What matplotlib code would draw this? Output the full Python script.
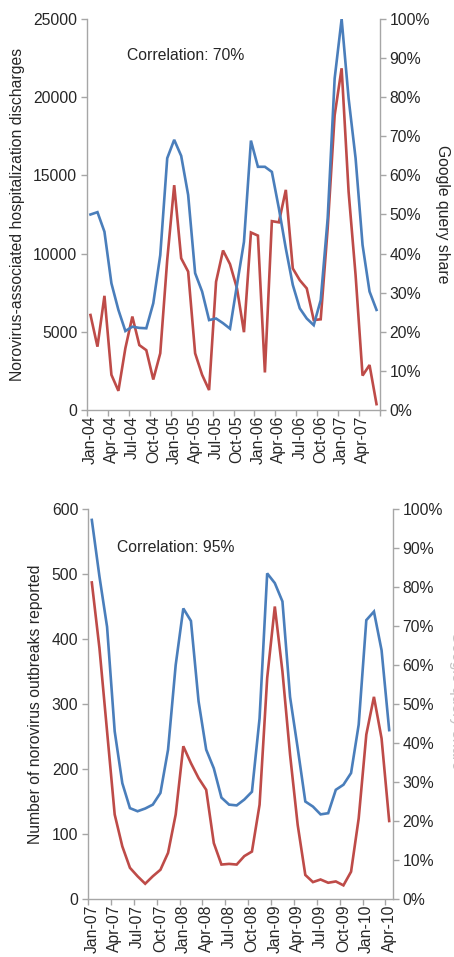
import matplotlib
matplotlib.use("Agg")
import matplotlib.pyplot as plt
from matplotlib.ticker import FixedLocator, FuncFormatter

plt.rcParams['font.family'] = ['Liberation Sans', 'DejaVu Sans']

# ---------------- data: top panel (Jan-04 .. Jun-07, monthly) ----------------
top_months = ['Jan-04', 'Feb-04', 'Mar-04', 'Apr-04', 'May-04', 'Jun-04', 'Jul-04', 'Aug-04', 'Sep-04',
              'Oct-04', 'Nov-04', 'Dec-04', 'Jan-05', 'Feb-05', 'Mar-05', 'Apr-05', 'May-05', 'Jun-05',
              'Jul-05', 'Aug-05', 'Sep-05', 'Oct-05', 'Nov-05', 'Dec-05', 'Jan-06', 'Feb-06', 'Mar-06',
              'Apr-06', 'May-06', 'Jun-06', 'Jul-06', 'Aug-06', 'Sep-06', 'Oct-06', 'Nov-06', 'Dec-06',
              'Jan-07', 'Feb-07', 'Mar-07', 'Apr-07', 'May-07', 'Jun-07']
top_discharges = [6075, 4050, 7300, 2250, 1225, 3950, 5975, 4150, 3825, 1950, 3625, 9600,
                  14375, 9700, 8850, 3625, 2250, 1275, 8200, 10200, 9325, 7775, 4975, 11350,
                  11150, 2400, 12075, 12000, 14075, 9050, 8300, 7775, 5750, 5800, 11625, 18850,
                  21850, 13950, 8625, 2200, 2875, 375]
top_query_share = [50.0, 50.6, 45.6, 32.4, 25.6, 20.2, 21.3, 21.0, 20.9, 27.3, 39.6, 64.4,
                   69.1, 65.0, 55.0, 35.0, 30.3, 23.0, 23.4, 22.2, 20.8, 32.0, 43.0, 68.9,
                   62.2, 62.2, 60.9, 51.6, 41.3, 32.0, 26.0, 23.4, 21.7, 28.1, 49.0, 84.8,
                   100.0, 79.7, 64.4, 42.2, 30.3, 25.6]
top_tick_labels = ['Jan-04', 'Apr-04', 'Jul-04', 'Oct-04', 'Jan-05', 'Apr-05', 'Jul-05', 'Oct-05',
                   'Jan-06', 'Apr-06', 'Jul-06', 'Oct-06', 'Jan-07', 'Apr-07']
top_left_ticks = [0, 5000, 10000, 15000, 20000, 25000]

# ---------------- data: bottom panel (Jan-07 .. Apr-10, monthly) ----------------
bot_months = ['Jan-07', 'Feb-07', 'Mar-07', 'Apr-07', 'May-07', 'Jun-07', 'Jul-07', 'Aug-07', 'Sep-07',
              'Oct-07', 'Nov-07', 'Dec-07', 'Jan-08', 'Feb-08', 'Mar-08', 'Apr-08', 'May-08', 'Jun-08',
              'Jul-08', 'Aug-08', 'Sep-08', 'Oct-08', 'Nov-08', 'Dec-08', 'Jan-09', 'Feb-09', 'Mar-09',
              'Apr-09', 'May-09', 'Jun-09', 'Jul-09', 'Aug-09', 'Sep-09', 'Oct-09', 'Nov-09', 'Dec-09',
              'Jan-10', 'Feb-10', 'Mar-10', 'Apr-10']
bot_outbreaks = [487, 386, 258, 130, 81, 48, 35, 23.5, 35, 45, 71, 130,
                 235, 209, 186, 168, 86, 53, 54, 53, 66, 73, 145, 340,
                 450, 350, 222, 114, 37, 26, 30, 25, 27, 21, 42, 124,
                 253, 311, 247, 120]
bot_query_share = [97.2, 82.7, 69.8, 43.0, 29.7, 23.3, 22.5, 23.2, 24.2, 27.2, 38.3, 60.0,
                   74.5, 71.3, 50.7, 38.3, 33.5, 26.0, 24.2, 24.0, 25.5, 27.5, 46.3, 83.5,
                   81.0, 76.3, 51.8, 38.7, 25.0, 23.7, 21.7, 22.0, 28.0, 29.3, 32.3, 44.7,
                   71.5, 73.7, 63.8, 43.3]
bot_tick_labels = ['Jan-07', 'Apr-07', 'Jul-07', 'Oct-07', 'Jan-08', 'Apr-08', 'Jul-08', 'Oct-08',
                   'Jan-09', 'Apr-09', 'Jul-09', 'Oct-09', 'Jan-10', 'Apr-10']
bot_left_ticks = [0, 100, 200, 300, 400, 500, 600]
pct_ticks = [0, 10, 20, 30, 40, 50, 60, 70, 80, 90, 100]

BLUE = '#4a7ebb'
RED = '#be4b48'
AXC = '#a6a6a6'
TXT = '#262626'
FS = 11.3

fig = plt.figure(figsize=(4.54, 9.57), dpi=100)


def panel(rect, months, left_vals, right_vals, left_max, left_ticks, tick_labels,
          ylabel, corr_text, corr_xy):
    ax = fig.add_axes(rect)
    n = len(months)
    xs = list(range(n))
    ax.plot(xs, left_vals, color=RED, lw=1.9, solid_joinstyle='miter', zorder=2)
    ax.set_xlim(-0.5, n - 0.5)
    ax.set_ylim(0, left_max)
    ax.yaxis.set_major_locator(FixedLocator(left_ticks))
    ax.yaxis.set_major_formatter(FuncFormatter(lambda v, p: f"{int(v)}"))
    label_pos = [i for i in range(0, n, 3)][:len(tick_labels)]
    ax.xaxis.set_major_locator(FixedLocator(label_pos))
    ax.set_xticklabels(tick_labels, rotation=90, fontsize=FS, color=TXT)
    ax.xaxis.set_minor_locator(FixedLocator([b - 0.5 for b in range(0, n + 1, 3)]))
    ax.tick_params(axis='x', which='major', length=0, pad=4)
    ax.tick_params(axis='x', which='minor', length=4, color=AXC, width=1)
    ax.tick_params(axis='y', length=4, color=AXC, width=1, labelsize=FS, labelcolor=TXT, pad=3)
    for s in ['top', 'right']:
        ax.spines[s].set_visible(False)
    for s in ['left', 'bottom']:
        ax.spines[s].set_color(AXC)
        ax.spines[s].set_linewidth(1)
    ax.set_ylabel(ylabel, fontsize=FS, color=TXT)

    ax2 = ax.twinx()
    ax2.plot(xs, right_vals, color=BLUE, lw=1.9, solid_joinstyle='miter', zorder=3)
    ax2.set_ylim(0, 100)
    ax2.yaxis.set_major_locator(FixedLocator(pct_ticks))
    ax2.yaxis.set_major_formatter(FuncFormatter(lambda v, p: f"{int(v)}%"))
    ax2.tick_params(axis='y', length=4, color=AXC, width=1, labelsize=FS, labelcolor=TXT, pad=3)
    for s in ['top', 'left', 'bottom']:
        ax2.spines[s].set_visible(False)
    ax2.spines['right'].set_color(AXC)
    ax2.spines['right'].set_linewidth(1)
    ax.text(corr_xy[0], corr_xy[1], corr_text, transform=fig.transFigure,
            fontsize=FS, color=TXT, ha='left', va='center')
    return ax, ax2


ax_t, ax_t2 = panel([87 / 454, 1 - 410 / 957, 293 / 454, 391 / 957], top_months,
                    top_discharges, top_query_share, 25000, top_left_ticks, top_tick_labels,
                    'Norovirus-associated hospitalization discharges', 'Correlation: 70%',
                    (127 / 454, 1 - 56 / 957))
ax_t.yaxis.set_label_coords(-0.212, 0.5)
ax_t2.set_ylabel('Google query share', fontsize=FS, color=TXT, rotation=270, labelpad=14)

ax_b, ax_b2 = panel([88 / 454, 1 - 899 / 957, 305 / 454, 390 / 957], bot_months,
                    bot_outbreaks, bot_query_share, 600, bot_left_ticks, bot_tick_labels,
                    'Number of norovirus outbreaks reported', 'Correlation: 95%',
                    (117 / 454, 1 - 547 / 957))
ax_b.yaxis.set_label_coords(-0.148, 0.5)
# right-axis title of the lower panel is cut off by the figure edge in the original
fig.text(449 / 454, 1 - 700 / 957, 'Google query share', fontsize=FS, color='#c4c4c4',
         rotation=270, ha='left', va='center')

fig.savefig('out.png', dpi=100)
